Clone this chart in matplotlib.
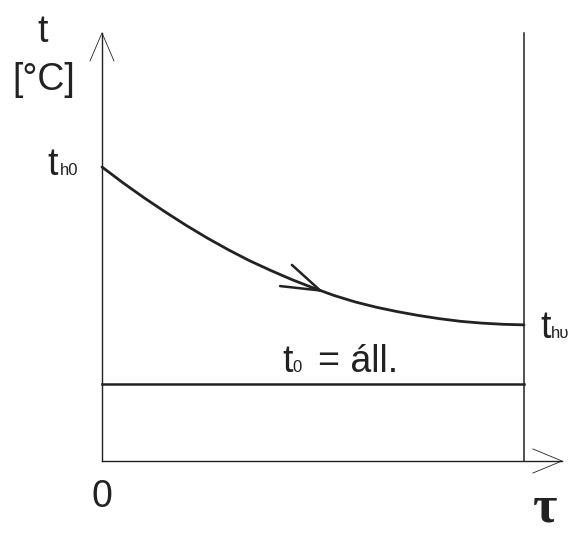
#!/usr/bin/env python3
"""Cooling curve sketch: body temperature t_h falling toward constant t0."""

import matplotlib
matplotlib.use("Agg")
import matplotlib.pyplot as plt

# normalised time (0 .. end of process) and temperature (t_h0 = 1)
TAU = [0.0, 0.05, 0.10, 0.15, 0.20, 0.25, 0.30, 0.35, 0.40, 0.45, 0.50,
       0.55, 0.60, 0.65, 0.70, 0.75, 0.80, 0.85, 0.90, 0.95, 1.0]
T_BODY = [1.0, 0.946, 0.895, 0.847, 0.801, 0.758, 0.718, 0.681, 0.648, 0.617, 0.589,
          0.563, 0.541, 0.523, 0.508, 0.495, 0.484, 0.475, 0.469, 0.465, 0.463]
T_AMBIENT = 0.262
TAU_END = 1.0

# direction arrow on the curve: tip and the two wing ends
ARROW_TIP = (0.517, 0.580)
ARROW_WINGS = [(0.450, 0.667), (0.422, 0.595)]

INK = "#222222"
FONT = "Liberation Sans"

fig = plt.figure(figsize=(5.81, 5.33), dpi=100, facecolor="white")
ax = fig.add_axes([0, 0, 1, 1])
ax.set_xlim(-0.2417, 1.1351)
ax.set_ylim(-0.2449, 1.568)
ax.axis("off")

# axes with open arrowheads
y_top, x_right = 1.456, 1.09
ax.plot([0, 0], [0, y_top], color=INK, lw=1.0)
ax.plot([-0.0284, 0, 0.0284], [1.361, y_top, 1.361], color=INK, lw=0.6)
ax.plot([0, x_right], [0, 0], color=INK, lw=1.0)
ax.plot([1.021, x_right, 1.021], [0.041, 0, -0.041], color=INK, lw=0.6)

# end-of-process vertical line
ax.plot([TAU_END, TAU_END], [0, y_top], color=INK, lw=1.1)

# ambient temperature and body temperature curve
ax.plot([0, TAU_END], [T_AMBIENT, T_AMBIENT], color=INK, lw=1.8)
ax.plot(TAU, T_BODY, color=INK, lw=2.0, solid_capstyle="round",
        solid_joinstyle="round")
for wx, wy in ARROW_WINGS:
    ax.plot([wx, ARROW_TIP[0]], [wy, ARROW_TIP[1]], color=INK, lw=1.8,
            solid_capstyle="round")

big = dict(family=FONT, color=INK, fontsize=27)
small = dict(family=FONT, color=INK, fontsize=12)

ax.text(-0.140, 1.425, "t", ha="center", va="baseline", **big)
ax.text(-0.137, 1.262, "[°C]", ha="center", va="baseline", **big)

ax.text(-0.130, 0.973, "t", ha="left", va="baseline", **big)
ax.text(-0.100, 0.973, "h0", ha="left", va="baseline", **small)

ax.text(1.038, 0.418, "t", ha="left", va="baseline", **big)
ax.text(1.064, 0.418, "hυ", ha="left", va="baseline", **small)

ax.text(0.4265, 0.303, "t", ha="left", va="baseline", **big)
ax.text(0.452, 0.303, "0", ha="left", va="baseline", **small)
ax.text(0.512, 0.303, "= áll.", ha="left", va="baseline", **big)

ax.text(0.0, -0.122, "0", ha="center", va="center", **big)
ax.text(1.050, -0.160, "τ", ha="center", va="center",
        family="Liberation Serif", fontweight="bold", color=INK, fontsize=38)

fig.savefig("out.png", dpi=100)
